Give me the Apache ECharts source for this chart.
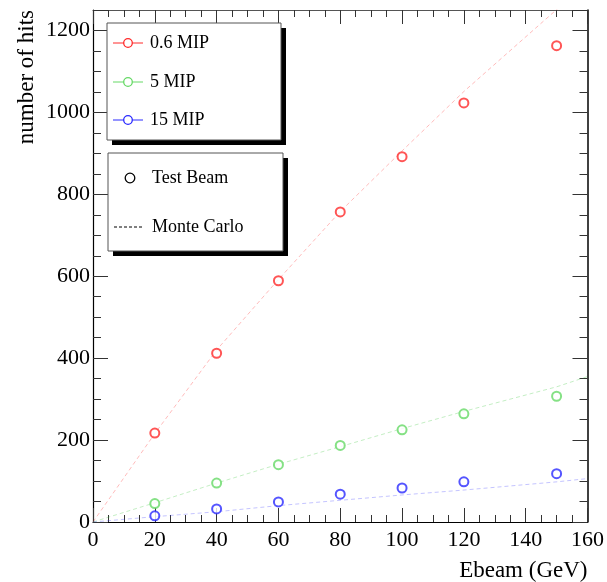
<!DOCTYPE html>
<html>
<head>
<meta charset="utf-8">
<title>number of hits vs Ebeam</title>
<script src="https://cdn.jsdelivr.net/npm/echarts@6/dist/echarts.min.js"></script>
<style>
  html, body { margin: 0; padding: 0; background: #fff; }
  #chart { width: 607px; height: 582px; }
</style>
</head>
<body>
<div id="chart"></div>
<script>
// 数据：束流能量 (GeV)
var energies = [20, 40, 60, 80, 100, 120, 150];
// Test Beam 测量点
var tb06 = [217, 412, 589, 757, 892, 1023, 1163];
var tb5 = [45, 95, 140, 187, 225, 264, 307];
var tb15 = [15, 32, 49, 68, 83, 98, 118];
// Monte Carlo 曲线
var mcEnergies = [0, 20, 40, 60, 80, 100, 120, 150, 160];
var mc06 = [0, 216, 420, 592, 758, 906, 1051, 1251, 1318];
var mc5 = [0, 47, 95, 141, 184, 228, 270, 330, 355];
var mc15 = [0, 13, 25, 40, 53, 66, 78, 98, 106];
// 坐标轴刻度
var xTicks = ['0', '20', '40', '60', '80', '100', '120', '140', '160'];
var yTicks = ['0', '200', '400', '600', '800', '1000', '1200'];

var seriesNames = ['0.6 MIP', '5 MIP', '15 MIP'];
var markColors = ['#ff2a2a', '#66d966', '#2a2aff'];
var mcColors = ['rgba(255,60,60,0.35)', 'rgba(60,200,60,0.3)', 'rgba(60,60,255,0.3)'];

function pairs(xs, ys) {
  return xs.map(function (x, i) { return [x, ys[i]]; });
}

var chart = echarts.init(document.getElementById('chart'));
var serif = '"Liberation Serif", "Times New Roman", serif';

var tbData = [tb06, tb5, tb15];
var mcData = [mc06, mc5, mc15];
var series = [];
// MC 虚线
mcData.forEach(function (d, i) {
  series.push({
    name: seriesNames[i] + ' MC',
    type: 'line',
    data: pairs(mcEnergies, d),
    symbol: 'none',
    silent: true,
    z: 2,
    lineStyle: { color: mcColors[i], width: 1, type: [4, 3] }
  });
});
// Test Beam 空心圆
tbData.forEach(function (d, i) {
  series.push({
    name: seriesNames[i],
    type: 'scatter',
    data: pairs(energies, d),
    symbol: 'emptyCircle',
    symbolSize: 9,
    z: 5,
    itemStyle: { color: markColors[i], borderColor: markColors[i], borderWidth: 1.3 }
  });
});

// 图例（两个带阴影的框）
var legendGraphics = [];
function box(x, y, w, h) {
  legendGraphics.push({ type: 'rect', shape: { x: x + 5, y: y + 5, width: w, height: h }, style: { fill: '#000' }, z: 10 });
  legendGraphics.push({ type: 'rect', shape: { x: x, y: y, width: w, height: h }, style: { fill: '#fff', stroke: '#555', lineWidth: 1 }, z: 11 });
}
box(107, 23, 174, 117);
box(108, 153, 175, 98);
var rowY = [43, 82, 120];
seriesNames.forEach(function (n, i) {
  legendGraphics.push({ type: 'line', shape: { x1: 113, y1: rowY[i], x2: 143, y2: rowY[i] }, style: { stroke: markColors[i], lineWidth: 1 }, z: 12 });
  legendGraphics.push({ type: 'circle', shape: { cx: 128, cy: rowY[i], r: 4.3 }, style: { fill: '#fff', stroke: markColors[i], lineWidth: 1.3 }, z: 13 });
  legendGraphics.push({ type: 'text', x: 150, y: rowY[i], style: { text: n, font: '18px ' + serif, fill: '#000', verticalAlign: 'middle' }, z: 13 });
});
legendGraphics.push({ type: 'circle', shape: { cx: 130, cy: 178, r: 4.8 }, style: { fill: '#fff', stroke: '#000', lineWidth: 1.3 }, z: 13 });
legendGraphics.push({ type: 'text', x: 152, y: 178, style: { text: 'Test Beam', font: '18px ' + serif, fill: '#000', verticalAlign: 'middle' }, z: 13 });
legendGraphics.push({ type: 'line', shape: { x1: 114, y1: 227, x2: 144, y2: 227 }, style: { stroke: '#000', lineWidth: 1, lineDash: [3, 2] }, z: 12 });
legendGraphics.push({ type: 'text', x: 152, y: 227, style: { text: 'Monte Carlo', font: '18px ' + serif, fill: '#000', verticalAlign: 'middle' }, z: 13 });

var tickStyle = { color: '#333', width: 1 };
var option = {
  animation: false,
  backgroundColor: '#fff',
  grid: { left: 93, right: 15, top: 10, bottom: 60 },
  xAxis: [{
    type: 'value', min: 0, max: 160, interval: 20,
    name: 'Ebeam (GeV)', nameLocation: 'end', nameGap: 0,
    nameTextStyle: { fontFamily: serif, fontSize: 23, color: '#000', align: 'right', verticalAlign: 'top', padding: [37, 0, 0, 0] },
    axisLine: { onZero: false, lineStyle: { color: '#000', width: 1.2 } },
    axisTick: { inside: true, length: 14, lineStyle: tickStyle },
    minorTick: { show: true, splitNumber: 4, length: 7, lineStyle: tickStyle },
    splitLine: { show: false },
    axisLabel: { fontFamily: serif, fontSize: 22, color: '#000', margin: 7,
      formatter: function (v) { return xTicks[v / 20]; } }
  }, {
    type: 'value', position: 'top', min: 0, max: 160, interval: 20,
    axisLine: { onZero: false, lineStyle: { color: '#555', width: 1 } },
    axisTick: { inside: true, length: 14, lineStyle: tickStyle },
    minorTick: { show: true, splitNumber: 4, length: 7, lineStyle: tickStyle },
    splitLine: { show: false },
    axisLabel: { show: false }
  }],
  yAxis: [{
    type: 'value', min: 0, max: 1250, interval: 200,
    name: 'number of hits', nameLocation: 'end', nameGap: 0, nameRotate: 90,
    nameTextStyle: { fontFamily: serif, fontSize: 23, color: '#000', align: 'right', verticalAlign: 'bottom', padding: [0, 0, 55, 0] },
    axisLine: { onZero: false, lineStyle: { color: '#000', width: 1.2 } },
    axisTick: { inside: true, length: 15, lineStyle: tickStyle },
    minorTick: { show: true, splitNumber: 4, length: 8, lineStyle: tickStyle },
    splitLine: { show: false },
    axisLabel: { fontFamily: serif, fontSize: 22, color: '#000', margin: 3, showMaxLabel: false,
      formatter: function (v) { return v % 200 === 0 ? yTicks[v / 200] : ''; } }
  }, {
    type: 'value', position: 'right', min: 0, max: 1250, interval: 200,
    axisLine: { onZero: false, lineStyle: { color: '#000', width: 1.5 } },
    axisTick: { inside: true, length: 15, lineStyle: tickStyle },
    minorTick: { show: true, splitNumber: 4, length: 8, lineStyle: tickStyle },
    splitLine: { show: false },
    axisLabel: { show: false }
  }],
  series: series,
  graphic: legendGraphics
};

chart.setOption(option);
</script>
</body>
</html>
